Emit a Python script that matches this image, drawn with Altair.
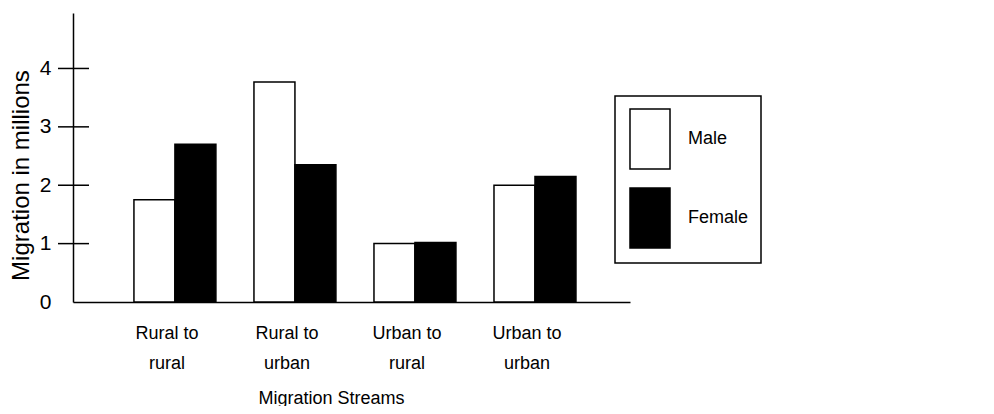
import altair as alt
import pandas as pd

streams = ["Rural to|rural", "Rural to|urban", "Urban to|rural", "Urban to|urban"]
male = [1.75, 3.77, 1.0, 2.0]
female = [2.7, 2.35, 1.02, 2.15]
sexes = ["Male", "Female"]
y_labels = [0, 1, 2, 3, 4]
tick_marks = [1, 2, 3, 4]

rows = []
for s, m, f in zip(streams, male, female):
    rows.append({"stream": s, "sex": "Male", "value": m})
    rows.append({"stream": s, "sex": "Female", "value": f})
df = pd.DataFrame(rows)

FONT = "Liberation Sans, Arial, sans-serif"

bars = alt.Chart(df).mark_bar(stroke="black", strokeWidth=1.5).encode(
    x=alt.X(
        "stream:N",
        sort=streams,
        scale=alt.Scale(paddingInner=0.317, paddingOuter=0.479, align=0.53),
        axis=alt.Axis(
            title="Migration Streams",
            labelExpr="split(datum.label, '|')",
            labelAngle=0,
            ticks=False,
            labelPadding=22,
            labelBaseline="top",
            labelLineHeight=30,
            labelOffset=-8,
            labelFont=FONT,
            labelFontSize=18,
            labelColor="black",
            titleFont=FONT,
            titleFontSize=18,
            titleFontWeight="normal",
            titleColor="black",
            titleX=258,
            titleY=101,
            titleBaseline="alphabetic",
            titleAlign="center",
            domainColor="black",
            domainWidth=1.5,
        ),
    ),
    xOffset=alt.XOffset("sex:N", sort=sexes, scale=alt.Scale(paddingInner=0, paddingOuter=0)),
    y=alt.Y(
        "value:Q",
        scale=alt.Scale(domain=[0, 4.95], nice=False),
        axis=alt.Axis(
            values=y_labels,
            format="d",
            ticks=False,
            grid=False,
            labelPadding=22,
            labelFont=FONT,
            labelFontSize=21,
            labelColor="black",
            title="Migration in millions",
            titleFont=FONT,
            titleFontSize=24,
            titleFontWeight="normal",
            titleColor="black",
            titleX=-52,
            titleY=162,
            titleBaseline="middle",
            titleAlign="center",
            domainColor="black",
            domainWidth=1.5,
        ),
    ),
    fill=alt.Fill(
        "sex:N",
        sort=sexes,
        scale=alt.Scale(domain=sexes, range=["white", "black"]),
        legend=alt.Legend(
            title=None,
            orient="none",
            legendX=542,
            legendY=83,
            symbolType="M-0.667,-1H0.667V1H-0.667Z",
            symbolSize=3600,
            symbolStrokeColor="black",
            symbolStrokeWidth=1.5,
            symbolOffset=-8,
            symbolOpacity=1,
            labelOffset=7,
            rowPadding=13,
            padding=12,
            strokeColor="black",
            labelFont=FONT,
            labelFontSize=18,
            labelColor="black",
        ),
    ),
)

ticks = alt.Chart(pd.DataFrame({"value": tick_marks})).mark_rule(color="black", strokeWidth=1.5).encode(
    y=alt.Y("value:Q"),
    x=alt.value(-15),
    x2=alt.value(16),
)

chart = (
    alt.layer(bars, ticks)
    .properties(
        width=557,
        height=289,
        autosize=alt.AutoSizeParams(type="none"),
        padding={"left": 65, "top": 5, "right": 356, "bottom": 104},
        background="white",
    )
    .configure_view(stroke=None)
    .configure_legend(strokeWidth=1.5)
)

chart.save("out.html", embed_options={"renderer": "svg", "actions": False})
